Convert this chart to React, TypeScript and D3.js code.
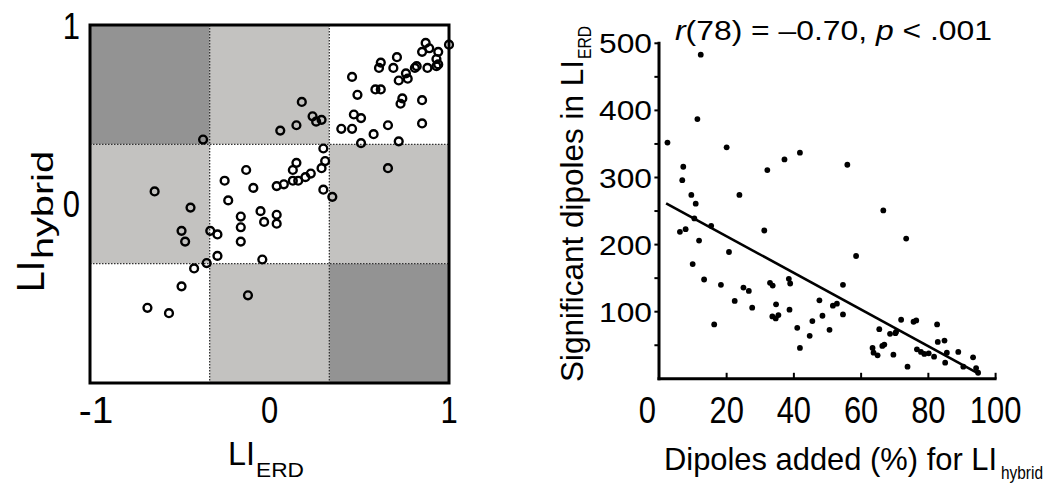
import React from "react";
import * as d3 from "d3";

// ---- Left panel data: LI_ERD vs LI_hybrid ----
const liErd = [
  0.87, 0.89, 0.85, 0.94, 1.0, 0.93, 0.94, 0.93, 0.88, 0.82, 0.81, 0.71, 0.62, 0.61, 0.69, 0.76, 0.72, 0.77, 0.46, 0.59,
  0.62, 0.49, 0.74, 0.73, 0.85, 0.47, 0.51, 0.4, 0.46, 0.66, 0.85, 0.58, 0.51, 0.72,
  0.18, 0.15, 0.06, 0.24, 0.26, 0.29,
  -0.37, 0.66,
  0.3, 0.31, 0.29, 0.15, 0.13, 0.23, 0.2, 0.16, 0.13, 0.08, 0.04, 0.3, 0.35, -0.13, -0.25, -0.09, -0.23, -0.05, 0.04,
  -0.16, -0.03, 0.04, -0.16, -0.33, -0.29, -0.16, -0.29, -0.35, -0.42, -0.04, -0.49, -0.68, -0.56, -0.12, -0.64, -0.44,
  -0.49, -0.47,
];
const liHybrid = [
  0.9, 0.87, 0.85, 0.85, 0.89, 0.81, 0.78, 0.77, 0.76, 0.77, 0.76, 0.82, 0.79, 0.76, 0.76, 0.73, 0.69, 0.7, 0.71, 0.64,
  0.64, 0.61, 0.59, 0.56, 0.58, 0.5, 0.48, 0.42, 0.42, 0.44, 0.45, 0.39, 0.34, 0.35,
  0.57, 0.44, 0.41, 0.49, 0.46, 0.47,
  0.36, 0.2,
  0.31, 0.24, 0.2, 0.23, 0.19, 0.17, 0.15, 0.13, 0.13, 0.11, 0.1, 0.08, 0.04, 0.19, 0.13, 0.09, 0.02, -0.04, -0.06,
  -0.07, -0.1, -0.11, -0.13, -0.15, -0.17, -0.21, -0.29, -0.33, -0.36, -0.31, -0.46, -0.58, -0.61, -0.51, 0.07, -0.02,
  -0.15, -0.21,
];
const leftXTicks = [-1, 0, 1];
const leftXTickLabels = ["-1", "0", "1"];
const leftYTicks = [0, 1];
const leftYTickLabels = ["0", "1"];
const zoneBounds = [-1, -1 / 3, 1 / 3, 1];
// rows from top (high LI_hybrid) to bottom; columns from left (low LI_ERD) to right
const zoneShades = [
  ["dark", "light", "white"],
  ["light", "white", "light"],
  ["white", "light", "dark"],
];

// ---- Right panel data ----
const dipolesAdded = [
  12.3, 11.3, 2.4, 20.0, 37.2, 41.8, 7.1, 6.8, 32.1, 9.5,
  23.8, 10.8, 55.9, 66.6, 6.1, 7.8, 10.4, 15.4, 11.8, 31.2,
  20.7, 9.9, 13.3, 18.3, 25.0, 26.6, 22.4, 27.6, 16.3, 32.9,
  33.7, 34.7, 33.6, 34.6, 35.4, 38.5, 38.9, 38.7, 41.0, 41.8,
  44.7, 45.5, 47.6, 48.5, 50.6, 51.6, 52.8, 73.4, 58.5, 54.6,
  54.6, 65.4, 63.4, 63.7, 64.9, 66.3, 66.9, 68.6, 70.2, 70.4,
  71.9, 69.6, 73.8, 75.6, 76.4, 76.6, 77.8, 78.8, 80.1, 81.7,
  82.6, 82.8, 84.8, 85.5, 85.0, 88.9, 90.4, 93.3, 94.2, 94.8,
];
const sigDipoles = [
  483, 387, 352, 345, 327, 337, 316, 296, 311, 274,
  274, 261, 319, 251, 219, 223, 239, 228, 206, 221,
  189, 171, 148, 140, 136, 131, 116, 106, 81, 143,
  139, 111, 93, 90, 95, 149, 142, 103, 76, 46,
  64, 86, 117, 94, 73, 109, 112, 209, 183, 140,
  96, 74, 46, 39, 35, 49, 51, 67, 68, 70,
  88, 36, 18, 85, 87, 44, 40, 37, 38, 33,
  81, 55, 57, 39, 24, 40, 18, 32, 16, 9,
];
const rightXTicks = [0, 20, 40, 60, 80, 100];
const rightYTicks = [100, 200, 300, 400, 500];
const rightYMinorTicks = [50, 100, 150, 200, 250, 300, 350, 400, 450, 500];
const fitIntercept = 267;
const fitSlope = -2.73;
const fitRange = [2, 94.8];

const FONT = "'Liberation Sans', Arial, Helvetica, sans-serif";
const SHADE: Record<string, string> = { dark: "#939393", light: "#c3c2c0", white: "#ffffff" };

// condensed tick label: natural width per char ~ 0.556em, squeezed
function CondLabel(props: { x: number; y: number; text: string; size: number; anchor: "start" | "middle" | "end" }) {
  const { x, y, text, size, anchor } = props;
  const w = text.length * size * 0.556 * 0.86;
  return (
    <text x={x} y={y} fontSize={size} textAnchor={anchor} textLength={w} lengthAdjust="spacingAndGlyphs" fill="#000">
      {text}
    </text>
  );
}

// main text + subscript inside one text element
function SubLabel(props: {
  x: number; y: number; main: string; sub: string;
  size: number; subSize: number; mainLen: number; subLen: number; drop: number; gap?: number;
}) {
  const { x, y, main, sub, size, subSize, mainLen, subLen, drop, gap = 1 } = props;
  return (
    <text x={x} y={y} fontSize={size} fill="#000">
      <tspan textLength={mainLen} lengthAdjust="spacingAndGlyphs">{main}</tspan>
      <tspan dx={gap} dy={drop} fontSize={subSize} textLength={subLen} lengthAdjust="spacingAndGlyphs">{sub}</tspan>
    </text>
  );
}

export default function App() {
  // Left scales
  const lx = d3.scaleLinear().domain([-1, 1]).range([90, 449]);
  const ly = d3.scaleLinear().domain([-1, 1]).range([383, 25]);
  // Right scales
  const rx = d3.scaleLinear().domain([0, 100]).range([659.4, 995.6]);
  const ry = d3.scaleLinear().domain([0, 500]).range([378.8, 43.3]);

  const fitLine = d3
    .line<number>()
    .x((d) => rx(d))
    .y((d) => ry(fitIntercept + fitSlope * d));

  const cells: JSX.Element[] = [];
  zoneShades.forEach((row, ri) => {
    row.forEach((shade, ci) => {
      const x0 = lx(zoneBounds[ci]);
      const x1 = lx(zoneBounds[ci + 1]);
      const y0 = ly(zoneBounds[3 - ri]);
      const y1 = ly(zoneBounds[2 - ri]);
      cells.push(
        <rect key={`c${ri}${ci}`} x={x0} y={y0} width={x1 - x0} height={y1 - y0} fill={SHADE[shade]} />
      );
    });
  });

  return (
    <svg
      width={1050}
      height={493}
      style={{ position: "absolute", left: 0, top: 0, background: "#fff" }}
      fontFamily={FONT}
    >
      {/* ---------- Left panel ---------- */}
      {cells}
      {[zoneBounds[1], zoneBounds[2]].map((v, i) => (
        <g key={`dl${i}`} stroke="#333" strokeWidth={1.3} strokeDasharray="1.5,1.5">
          <line x1={lx(v)} x2={lx(v)} y1={ly(1)} y2={ly(-1)} />
          <line x1={lx(-1)} x2={lx(1)} y1={ly(v)} y2={ly(v)} />
        </g>
      ))}
      <rect x={lx(-1)} y={ly(1)} width={lx(1) - lx(-1)} height={ly(-1) - ly(1)} fill="none" stroke="#000" strokeWidth={3} />
      {liErd.map((v, i) => (
        <circle key={`lp${i}`} cx={lx(v)} cy={ly(liHybrid[i])} r={3.9} fill="none" stroke="#000" strokeWidth={2.4} />
      ))}
      {leftXTicks.map((t, i) => (
        <CondLabel key={`lxt${i}`} x={lx(t) + (t === -1 ? 6 : 0)} y={423} size={36} anchor="middle" text={leftXTickLabels[i]} />
      ))}
      {leftYTicks.map((t, i) => (
        <CondLabel key={`lyt${i}`} x={80} y={ly(t) + 13 + (t === 1 ? 1 : 0)} size={36} anchor="end" text={leftYTickLabels[i]} />
      ))}
      <SubLabel x={228} y={465} main="LI" sub="ERD" size={33} subSize={21} mainLen={27} subLen={48} drop={12} />
      <g transform="translate(44,292) rotate(-90)">
        <SubLabel x={0} y={0} main="LI" sub="hybrid" size={38} subSize={29} mainLen={31} subLen={108} drop={9} gap={2} />
      </g>

      {/* ---------- Right panel ---------- */}
      <path d={fitLine(fitRange) || ""} fill="none" stroke="#000" strokeWidth={2.6} />
      {dipolesAdded.map((v, i) => (
        <circle key={`rp${i}`} cx={rx(v)} cy={ry(sigDipoles[i])} r={2.9} fill="#000" />
      ))}
      <line x1={rx(0) - 0.4} x2={rx(0) - 0.4} y1={ry(0) + 1.5} y2={ry(500) - 1.5} stroke="#000" strokeWidth={3} />
      <line x1={rx(0) - 1.9} x2={rx(100) + 1} y1={ry(0)} y2={ry(0)} stroke="#000" strokeWidth={3} />
      {rightYMinorTicks.map((t, i) => (
        <line key={`ryt${i}`} x1={rx(0) - 5} x2={rx(0)} y1={ry(t)} y2={ry(t)} stroke="#000" strokeWidth={2} />
      ))}
      {rightXTicks.filter((t) => t > 0).map((t, i) => (
        <line key={`rxt${i}`} x1={rx(t)} x2={rx(t)} y1={ry(0)} y2={ry(0) - 6} stroke="#000" strokeWidth={2} />
      ))}
      {rightYTicks.map((t, i) => (
        <text key={`ryl${i}`} x={652} y={ry(t) + 10} fontSize={27} textAnchor="end" textLength={53} lengthAdjust="spacingAndGlyphs">
          {t}
        </text>
      ))}
      {rightXTicks.map((t, i) => (
        <CondLabel key={`rxl${i}`} x={rx(t) - (t === 0 ? 12 : 0)} y={423} size={36} anchor="middle" text={String(t)} />
      ))}
      <text x={675} y={40} fontSize={28} textLength={317} lengthAdjust="spacingAndGlyphs">
        <tspan fontStyle="italic">r</tspan>
        <tspan>(78) = –0.70, </tspan>
        <tspan fontStyle="italic">p</tspan>
        <tspan> &lt; .001</tspan>
      </text>
      <SubLabel x={664} y={470} main="Dipoles added (%) for LI" sub="hybrid" size={32} subSize={18} mainLen={333} subLen={42} drop={9} gap={4} />
      <g transform="translate(583,382) rotate(-90)">
        <SubLabel x={0} y={0} main="Significant dipoles in LI" sub="ERD" size={32} subSize={18} mainLen={322} subLen={33} drop={8} gap={1} />
      </g>
    </svg>
  );
}
